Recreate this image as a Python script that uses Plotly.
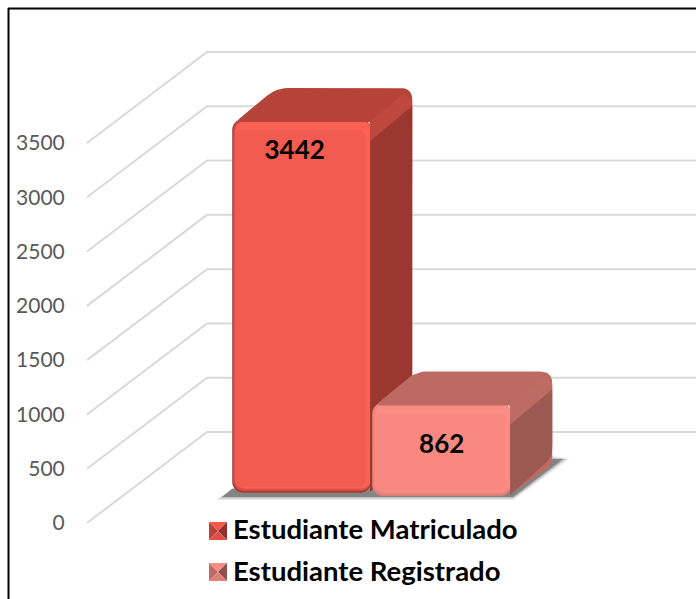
import plotly.graph_objects as go

# ---- data ----
categories = ["Estudiante Matriculado", "Estudiante Registrado"]
values = [3442, 862]
y_ticks = [0, 500, 1000, 1500, 2000, 2500, 3000, 3500]

# ---- styles / scene geometry ----
W, H = 696, 599
PX_PER_VALUE = 380 / 3500      # vertical scale
PX_PER_CAT = 140               # horizontal scale
Y0_PX = 523                    # page row of value 0 on the front-left edge
X0_PX = 301.7                  # page column of first category
AXIS_PX = 87
WALL_DX, WALL_DY = 120, 91     # depth of the floor in pixels
BAR_DX, BAR_DY = 41, 31        # depth of a bar in pixels
BAR_W_PX = 139
BASE_PX = [30.3, 27]           # how far bar fronts sit behind the front edge
LABEL_DX = [-7, 0]
LABEL_DY = [33, 44]

front = ["#F45B50", "#F88880"]
bevel_light = ["#FB6055", "#FC8D85"]
edge_dark = ["#A93B33", "#E07F78"]
edge_mid = ["#D94F45", "#F08880"]
side = ["#9C372F", "#9C5852"]
side_light = ["#BF483E", "#BD6B63"]
top_c = ["#B54338", "#BC6A62"]
sw_top = ["#F2584E", "#F98B83"]
sw_left = ["#B94238", "#BC6A62"]
sw_right = ["#8E322B", "#8E504A"]
sw_bottom = ["#DB5047", "#E07F78"]
grid_color = "#D9D9D9"
FONT = "Lato"


def dx(px):
    return px / PX_PER_CAT


def dy(px):
    return px / PX_PER_VALUE


def page_x(px):
    return (px - X0_PX) / PX_PER_CAT


def page_y(px):
    return (Y0_PX - px) / PX_PER_VALUE


def rounded(points, r):
    """Round polygon corners; r is per corner, in pixels."""
    n = len(points)
    if not isinstance(r, (list, tuple)):
        r = [r] * n
    xs, ys = [], []
    for i in range(n):
        p0, p1, p2 = points[i - 1], points[i], points[(i + 1) % n]
        a = ((p0[0] - p1[0]) * PX_PER_CAT, (p0[1] - p1[1]) * PX_PER_VALUE)
        b = ((p2[0] - p1[0]) * PX_PER_CAT, (p2[1] - p1[1]) * PX_PER_VALUE)
        la = (a[0] ** 2 + a[1] ** 2) ** 0.5
        lb = (b[0] ** 2 + b[1] ** 2) ** 0.5
        ta = min(r[i] / la, 0.5)
        tb = min(r[i] / lb, 0.5)
        s = (p1[0] + (p0[0] - p1[0]) * ta, p1[1] + (p0[1] - p1[1]) * ta)
        e = (p1[0] + (p2[0] - p1[0]) * tb, p1[1] + (p2[1] - p1[1]) * tb)
        for j in range(7):
            t = j / 6
            xs.append((1 - t) ** 2 * s[0] + 2 * t * (1 - t) * p1[0] + t ** 2 * e[0])
            ys.append((1 - t) ** 2 * s[1] + 2 * t * (1 - t) * p1[1] + t ** 2 * e[1])
    return xs + xs[:1], ys + ys[:1]


def poly(fig, points, color, axes=("x", "y"), r=0):
    xs, ys = rounded(points, r)
    fig.add_trace(go.Scatter(x=xs, y=ys, mode="lines", fill="toself", fillcolor=color,
                             line=dict(width=0), hoverinfo="skip", showlegend=False,
                             xaxis=axes[0], yaxis=axes[1]))


fig = go.Figure()

# ---- wall + side gridlines ----
for t in y_ticks:
    fig.add_trace(go.Scatter(
        x=[page_x(AXIS_PX), page_x(AXIS_PX + WALL_DX), page_x(W + 5)],
        y=[t, t + dy(WALL_DY), t + dy(WALL_DY)],
        mode="lines", line=dict(color=grid_color, width=2),
        hoverinfo="skip", showlegend=False))

# ---- floor shadow ----
bx_l = page_x(X0_PX) - BAR_W_PX / 2 / PX_PER_CAT
bx_r = 1 + BAR_W_PX / 2 / PX_PER_CAT
for color, grow in (("rgba(215,215,215,0.6)", 6), ("rgba(170,170,170,0.6)", 3), ("rgba(105,105,105,0.7)", 0)):
    poly(fig, [
        (bx_l - dx(10 + grow), dy(BASE_PX[1] - 1 - grow / 2)),
        (bx_r + dx(2), dy(BASE_PX[1] - 1 - grow / 2)),
        (bx_r + dx(BAR_DX + 11 + grow), dy(BASE_PX[1] + BAR_DY + 6)),
        (bx_r + dx(BAR_DX), dy(BASE_PX[1] + BAR_DY + 6 + grow / 2)),
        (bx_l, dy(BASE_PX[0] + 4)),
    ], color)

# ---- bars, each on its own overlaid subplot so bar 2 hides bar 1's side ----
for i, (cat, v) in enumerate(zip(categories, values)):
    xa, ya = f"x{i + 2}", f"y{i + 2}"
    base = dy(BASE_PX[i])
    # layered bevel: (inset left, right, top, bottom, colour, corner radius)
    layers = [
        (0, 0, 0, 0, edge_dark[i], 11),
        (1, 0, 1, 2, edge_mid[i], 11),
        (3, 0, 2, 4, bevel_light[i], 10),
        (3, 6, 11, 6, front[i], 6),
    ]
    for il, ir, it, ib, col, rad in layers:
        width = (BAR_W_PX - il - ir) / PX_PER_CAT
        fig.add_trace(go.Bar(
            x=[i + dx(il - ir) / 2], y=[v - dy(it + ib)], base=[base + dy(ib)], width=[width],
            marker=dict(color=col, line=dict(width=0), cornerradius=rad),
            hoverinfo="skip", showlegend=False, xaxis=xa, yaxis=ya))

    xl = i - dx(BAR_W_PX / 2)
    xr = i + dx(BAR_W_PX / 2)
    top = base + v
    ddx, ddy = dx(BAR_DX), dy(BAR_DY)
    axes = (xa, ya)
    # whole silhouette of top + side, in the top colour
    poly(fig, [(xl + dx(3), top - dy(3)), (xl + ddx + dx(3), top + ddy), (xr + ddx, top + ddy),
               (xr + ddx, base + ddy), (xr - dx(1), base + dy(1)), (xr - dx(1), top - dy(3))],
         top_c[i], axes, r=[6, 12, 12, 8, 2, 2])
    # light strip along the top-right edge
    poly(fig, [(xr - dx(1), top - dy(2)), (xr + ddx - dx(9), top + ddy - dy(6)),
               (xr + ddx, top + ddy - dy(12)), (xr + ddx, base + ddy + dy(20)), (xr - dx(1), base + dy(20))],
         side_light[i], axes)
    # dark side face
    poly(fig, [(xr - dx(1), top - dy(22)), (xr + ddx, top + ddy - dy(18)),
               (xr + ddx, base + ddy + dy(8)), (xr - dx(1), base + dy(1))],
         side[i], axes, r=[0, 0, 8, 0])
    # data label
    fig.add_trace(go.Scatter(
        x=[i + dx(LABEL_DX[i])], y=[top - dy(LABEL_DY[i])], mode="text", text=[str(v)],
        textposition="middle center", textfont=dict(family=FONT, size=26, color="black", weight="bold"),
        hoverinfo="skip", showlegend=False, xaxis=xa, yaxis=ya))

# ---- legend swatches (pyramid squares) under a transparent real legend ----
SW_ROWS = [522, 563]
for i, row in enumerate(SW_ROWS):
    l, r_, t_, b_ = page_x(209), page_x(227), page_y(row), page_y(row + 18)
    mx, my = (l + r_) / 2, (t_ + b_) / 2
    poly(fig, [(l, t_), (r_, t_), (mx, my)], sw_top[i])
    poly(fig, [(l, t_), (mx, my), (l, b_)], sw_left[i])
    poly(fig, [(r_, t_), (r_, b_), (mx, my)], sw_right[i])
    poly(fig, [(l, b_), (mx, my), (r_, b_)], sw_bottom[i])

for i, cat in enumerate(categories):
    fig.add_trace(go.Scatter(
        x=[None], y=[None], mode="markers", name=cat, legendgroup=cat,
        marker=dict(color="rgba(0,0,0,0)", symbol="square", size=12)))

x_range = [page_x(0), page_x(W)]
y_range = [page_y(H), page_y(0)]
hidden = dict(visible=False, fixedrange=True)

layout_axes = dict(
    xaxis=dict(range=x_range, domain=[0, 1], **hidden),
    yaxis=dict(range=y_range, domain=[0, 1], anchor="free", position=AXIS_PX / W,
               tickmode="array", tickvals=y_ticks, ticktext=[str(t) for t in y_ticks],
               ticks="outside", ticklen=18, tickcolor="rgba(0,0,0,0)", showgrid=False,
               zeroline=False, showline=False, fixedrange=True,
               tickfont=dict(family=FONT, size=21, color="#595959")),
)
for n in (2, 3):
    layout_axes[f"xaxis{n}"] = dict(range=x_range, overlaying="x", **hidden)
    layout_axes[f"yaxis{n}"] = dict(range=y_range, overlaying="y", **hidden)

fig.update_layout(
    width=W, height=H, margin=dict(l=0, r=0, t=0, b=0, autoexpand=False),
    paper_bgcolor="white", plot_bgcolor="white", barmode="overlay",
    showlegend=True,
    legend=dict(x=193 / W, xanchor="left", y=1 - 504 / H, yanchor="top",
                bgcolor="rgba(0,0,0,0)", itemwidth=30, tracegroupgap=3,
                font=dict(family=FONT, size=27.5, color="black", weight="bold"),
                itemclick=False, itemdoubleclick=False),
    shapes=[
        dict(type="line", xref="x", yref="y", x0=page_x(8.5), x1=page_x(8.5), y0=page_y(8), y1=page_y(H),
             line=dict(color="black", width=2)),
        dict(type="line", xref="x", yref="y", x0=page_x(8), x1=page_x(W), y0=page_y(8.5), y1=page_y(8.5),
             line=dict(color="black", width=2)),
    ],
    **layout_axes,
)

fig.write_html("out.html", config=dict(displayModeBar=False),
               post_script="document.body.style.margin='0';document.documentElement.style.overflow='hidden';")
